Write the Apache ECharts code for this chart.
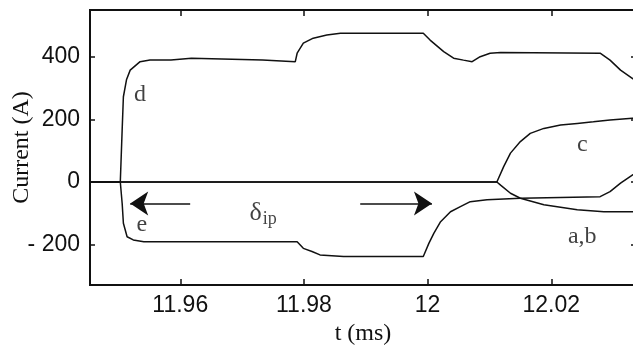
<!DOCTYPE html>
<html>
<head>
<meta charset="utf-8">
<script src="https://cdn.jsdelivr.net/npm/echarts@6/dist/echarts.min.js"></script>
<style>
html, body { margin: 0; padding: 0; background: #fff; }
#chart { width: 633px; height: 345px; }
</style>
</head>
<body>
<div id="chart"></div>
<script>
// 时间轴 (ms)
var tMin = 11.9454, tMax = 12.0337;
var xTicks = [11.96, 11.98, 12, 12.02];
var yTicks = [-200, 0, 200, 400];

// 曲线 d
var dT = [11.9454, 11.9503, 11.9506, 11.9508, 11.9513, 11.9519, 11.9535, 11.9551, 11.9585, 11.9588, 11.9618, 11.9621, 11.9733, 11.9735, 11.9786, 11.9789, 11.9799, 11.9815, 11.9837, 11.9859, 11.9993, 12.0004, 12.0026, 12.0042, 12.0058, 12.0072, 12.0085, 12.0101, 12.0118, 12.0279, 12.0295, 12.0312, 12.0331, 12.0345];
var dI = [0, 0, 166, 272, 326, 357, 384, 389, 389, 395, 395, 389, 389, 384, 384, 411, 443, 459, 469, 475, 475, 453, 416, 395, 389, 384, 400, 411, 413, 411, 389, 357, 331, 312];
// 曲线 e
var eT = [11.9454, 11.9503, 11.9506, 11.9508, 11.9514, 11.9524, 11.9541, 11.9789, 11.9799, 11.9813, 11.9826, 11.9864, 11.9993, 12.0002, 12.0010, 12.0021, 12.0037, 12.0053, 12.0069, 12.0096, 12.0150, 12.0279, 12.0295, 12.0312, 12.0331, 12.0345];
var eI = [0, 0, -68, -132, -175, -185, -191, -191, -212, -222, -233, -238, -238, -196, -164, -127, -95, -79, -63, -57, -52, -47, -31, -4, 22, 40];
// 曲线 c
var cT = [11.9454, 12.0112, 12.0115, 12.0123, 12.0134, 12.0150, 12.0166, 12.0188, 12.0215, 12.0242, 12.0268, 12.0295, 12.0331, 12.0345];
var cI = [0, 0, 6, 49, 92, 129, 155, 171, 182, 187, 192, 198, 203, 205];
// 曲线 a,b
var abT = [11.9454, 12.0112, 12.0118, 12.0134, 12.0150, 12.0188, 12.0242, 12.0285, 12.0345];
var abI = [0, 0, -10, -36, -52, -73, -89, -95, -95];

// 曲线标注
var labelText = ['d', 'e', 'c', 'a,b', '{d|δ}{s|ip}'];
var labelT = [11.9535, 11.9538, 12.0250, 12.0250, 11.9734];
var labelI = [278, -137, 118, -175, -99];

// 箭头 [起点t, 终点t, 电流]
var arrowFrom = [11.9616, 11.9891];
var arrowTo = [11.9519, 12.0007];
var arrowI = -69;

function pairs(ts, vs) {
	var out = [];
	for (var i = 0; i < ts.length; i++) {
		out.push([ts[i], vs[i]]);
	}
	return out;
}

var lineColor = '#111';
var serif = '"Liberation Serif", "DejaVu Serif", serif';
var sans = '"Liberation Sans", Arial, sans-serif';

function curve(name, ts, vs) {
	return {
		name: name,
		type: 'line',
		data: pairs(ts, vs),
		showSymbol: false,
		clip: true,
		lineStyle: { color: lineColor, width: 1.5 },
		silent: true
	};
}

var labelData = [];
for (var i = 0; i < labelText.length; i++) {
	labelData.push({ value: [labelT[i], labelI[i]], name: labelText[i] });
}

var arrowData = [];
for (var j = 0; j < arrowFrom.length; j++) {
	arrowData.push([{ coord: [arrowFrom[j], arrowI] }, { coord: [arrowTo[j], arrowI] }]);
}

var xBase = {
	type: 'value',
	min: tMin,
	max: tMax,
	splitLine: { show: false },
	axisLine: { show: true, onZero: false, lineStyle: { color: lineColor, width: 2 } },
	axisTick: { show: true, inside: true, length: 6, customValues: xTicks, lineStyle: { color: lineColor, width: 1.5 } }
};
var yBase = {
	type: 'value',
	min: -329,
	max: 549,
	splitLine: { show: false },
	axisLine: { show: true, onZero: false, lineStyle: { color: lineColor, width: 2 } },
	axisTick: { show: true, inside: true, length: 5, customValues: yTicks, lineStyle: { color: lineColor, width: 1.5 } }
};

var chart = echarts.init(document.getElementById('chart'));
var option = {
	animation: false,
	backgroundColor: '#fff',
	grid: {
		left: 90, top: 10, right: -3, bottom: 60,
		outerBoundsMode: 'none',
		containLabel: false,
		show: true,
		borderColor: lineColor,
		borderWidth: 2,
		backgroundColor: 'transparent'
	},
	xAxis: [
		Object.assign({}, xBase, {
			position: 'bottom',
			name: 't (ms)',
			nameLocation: 'middle',
			nameGap: 37,
			nameMoveOverlap: false,
			nameTextStyle: { fontFamily: serif, fontSize: 24, color: lineColor },
			axisLabel: {
				show: true,
				customValues: xTicks,
				margin: 9,
				fontFamily: sans,
				fontSize: 23,
				color: lineColor,
				formatter: function(v) { return String(+v.toFixed(2)); }
			}
		}),
		Object.assign({}, xBase, { position: 'top', axisLabel: { show: false } })
	],
	yAxis: [
		Object.assign({}, yBase, {
			position: 'left',
			name: 'Current (A)',
			nameLocation: 'middle',
			nameGap: 56,
			nameMoveOverlap: false,
			nameRotate: 90,
			nameTextStyle: { fontFamily: serif, fontSize: 24, color: lineColor, verticalAlign: 'bottom', padding: 0 },
			axisLabel: {
				show: true,
				customValues: yTicks,
				margin: 10,
				fontFamily: sans,
				fontSize: 23,
				color: lineColor,
				formatter: function(v) { return v < 0 ? '- ' + Math.abs(v) : String(v); }
			}
		}),
		Object.assign({}, yBase, { position: 'right', axisLabel: { show: false } })
	],
	series: [
		curve('c', cT, cI),
		curve('a,b', abT, abI),
		curve('d', dT, dI),
		curve('e', eT, eI),
		{
			name: 'labels',
			type: 'scatter',
			symbolSize: 0,
			data: labelData,
			silent: true,
			label: {
				show: true,
				position: 'inside',
				formatter: function(p) { return p.name; },
				fontFamily: serif,
				fontSize: 24,
				color: lineColor,
				rich: {
					d: { fontFamily: serif, fontSize: 26, color: lineColor },
					s: { fontFamily: serif, fontSize: 18, color: lineColor, padding: [12, 0, 0, 1] }
				}
			}
		},
		{
			name: 'arrows',
			type: 'line',
			data: [],
			silent: true,
			markLine: {
				silent: true,
				animation: false,
				symbol: ['none', 'arrow'],
				symbolSize: 18,
				label: { show: false },
				lineStyle: { color: lineColor, width: 1.5, type: 'solid' },
				data: arrowData
			}
		}
	]
};
chart.setOption(option);
</script>
</body>
</html>
